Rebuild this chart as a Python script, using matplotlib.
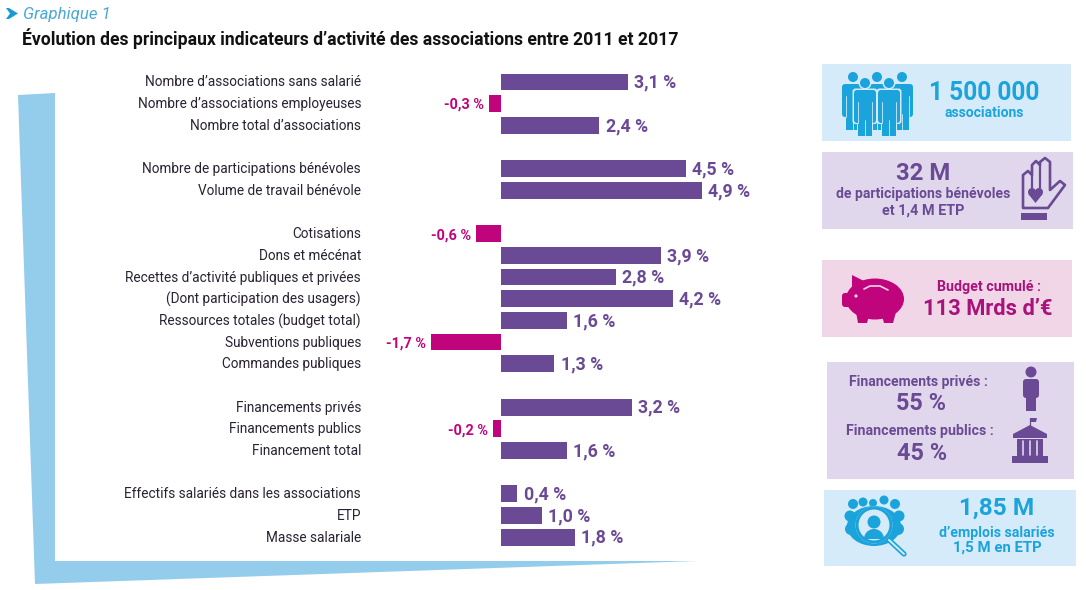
import matplotlib
matplotlib.use("Agg")
import matplotlib.pyplot as plt
from matplotlib.patches import Polygon, Rectangle, Circle, Ellipse, FancyBboxPatch, Wedge
from matplotlib.lines import Line2D
from matplotlib.transforms import ScaledTranslation

plt.rcParams['font.family'] = ['Roboto', 'Liberation Sans', 'DejaVu Sans']

# ---------- data ----------
labels = ["Nombre d’associations sans salarié", "Nombre d’associations employeuses", "Nombre total d’associations",
          "Nombre de participations bénévoles", "Volume de travail bénévole",
          "Cotisations", "Dons et mécénat", "Recettes d’activité publiques et privées",
          "(Dont participation des usagers)", "Ressources totales (budget total)",
          "Subventions publiques", "Commandes publiques",
          "Financements privés", "Financements publics", "Financement total",
          "Effectifs salariés dans les associations", "ETP", "Masse salariale"]
values = [3.1, -0.3, 2.4, 4.5, 4.9, -0.6, 3.9, 2.8, 4.2, 1.6, -1.7, 1.3, 3.2, -0.2, 1.6, 0.4, 1.0, 1.8]
rows = [0, 1, 2, 4, 5, 7, 8, 9, 10, 11, 12, 13, 15, 16, 17, 19, 20, 21]

PURPLE = "#6a4a94"
MAGENTA = "#c0047c"
BLUE = "#1ba3dc"
WEDGE = "#94cdec"
P_BLUE = "#d5ebf9"
P_LILAC = "#e0d7ec"
P_PINK = "#f1d6e8"
W, H = 1086, 590

fig = plt.figure(figsize=(W / 100, H / 100), dpi=100, facecolor="white")
rend = fig.canvas.get_renderer()

# ---------- pixel canvas for decoration ----------
bg = fig.add_axes([0, 0, 1, 1])
bg.set_xlim(0, W)
bg.set_ylim(H, 0)
bg.axis("off")

def poly(pts, c, z=2):
    bg.add_patch(Polygon(pts, closed=True, fc=c, ec="none", zorder=z))

def rect(x0, y0, x1, y1, c, z=3):
    bg.add_patch(Rectangle((x0, y0), x1 - x0, y1 - y0, fc=c, ec="none", zorder=z))

def circ(x, y, r, c, z=3):
    bg.add_patch(Circle((x, y), r, fc=c, ec="none", zorder=z))

def rrect(x0, y0, x1, y1, r, c, z=3):
    bg.add_patch(FancyBboxPatch((x0 + r, y0 + r), x1 - x0 - 2 * r, y1 - y0 - 2 * r,
                                boxstyle=f"round,pad={r},rounding_size={r}", fc=c, ec="none", zorder=z))

def line(xs, ys, c, lw, z=3):
    bg.add_line(Line2D(xs, ys, color=c, lw=lw, solid_capstyle="round", solid_joinstyle="round", zorder=z))

def txt(x, y, s, c, width, bold=True, ha="center", style="normal"):
    t = bg.text(x, y, s, color=c, fontsize=12, ha=ha, va="center",
                fontweight="bold" if bold else "normal", fontstyle=style, zorder=8)
    t.set_fontsize(12 * width / t.get_window_extent(rend).width)
    return t

def fitted_size(s, width, **kw):
    t = fig.text(0, 0, s, fontsize=12, **kw)
    size = 12 * width / t.get_window_extent(rend).width
    t.remove()
    return size

# corner wedge
poly([(18, 95), (55, 93), (55, 561), (697, 561), (35, 584)], WEDGE, 1)

# header
poly([(6, 8), (9, 8), (18, 13.5), (9, 19), (6, 19), (10, 13.5)], "#1b9ad2")
txt(23, 14, "Graphique 1", "#4aa8d8", 87, bold=False, ha="left", style="italic")
txt(22, 39, "Évolution des principaux indicateurs d’activité des associations entre 2011 et 2017",
    "#111111", 656.5, ha="left")

# panels
rect(822, 64, 1071, 141, P_BLUE, 1)
rect(822, 152, 1073, 229, P_LILAC, 1)
rect(822, 260, 1072, 337, P_PINK, 1)
rect(827, 362, 1074, 479, P_LILAC, 1)
rect(824, 490, 1076, 566, P_BLUE, 1)

# panel texts
txt(984, 93, "1 500 000", BLUE, 110)
txt(984, 113, "associations", BLUE, 79)
txt(923, 174, "32 M", PURPLE, 54)
txt(923.5, 194, "de participations bénévoles", PURPLE, 173)
txt(923, 211, "et 1,4 M ETP", PURPLE, 82)
txt(989, 287, "Budget cumulé :", "#a8127a", 103)
txt(988, 309, "113 Mrds d’€", "#a8127a", 128)
txt(918, 382, "Financements privés :", PURPLE, 138)
txt(921, 403, "55 %", PURPLE, 50)
txt(920, 431, "Financements publics :", PURPLE, 146)
txt(922, 453, "45 %", PURPLE, 50)
txt(997, 508, "1,85 M", BLUE, 75)
txt(997, 533, "d’emplois salariés", BLUE, 115)
txt(997, 548, "1,5 M en ETP", BLUE, 88)

# people icon
def person(cx, top, c, z, outline=None):
    if outline:
        circ(cx, top + 5, 6.5, outline, z)
        rrect(cx - 12.5, top + 10.5, cx + 12.5, top + 46, 3, outline, z)
        rect(cx - 8, top + 40, cx + 8, top + 60, outline, z)
    circ(cx, top + 5, 5, c, z + 1)
    rrect(cx - 11, top + 12, cx + 11, top + 45, 3, c, z + 1)
    rect(cx - 7, top + 40, cx + 7, top + 58, c, z + 1)
    line([cx, cx], [top + 42, top + 58], P_BLUE, 0.6, z + 2)
    for d in (-7, 7):
        line([cx + d, cx + d], [top + 24, top + 45], P_BLUE, 0.6, z + 2)

for cx in (853, 877, 902):
    person(cx, 72, BLUE, 2)
for cx in (865, 889):
    person(cx, 78, BLUE, 5, P_BLUE)

# hand icon
line([1023, 1023, 1028, 1032, 1032, 1036, 1040, 1040, 1045, 1050, 1050, 1060, 1065, 1048, 1023],
     [207, 175, 171, 175, 165, 161, 165, 162, 158, 162, 190, 181, 185, 208, 208], PURPLE, 1.9)
line([1032, 1032], [175, 188], PURPLE, 1.6)
line([1040, 1040], [165, 188], PURPLE, 1.6)
rect(1021, 213, 1047, 220, PURPLE)
circ(1032, 192, 4, PURPLE)
circ(1039, 192, 4, PURPLE)
poly([(1028.3, 194), (1042.7, 194), (1035.5, 203)], PURPLE, 3)

# piggy bank icon
bg.add_patch(Ellipse((875, 299), 58, 41, fc=MAGENTA, ec="none", zorder=3))
poly([(852, 275), (868, 283), (852, 295)], MAGENTA, 3)
poly([(856, 312), (870, 312), (867, 323), (858, 323)], MAGENTA, 3)
poly([(881, 312), (896, 312), (893, 323), (884, 323)], MAGENTA, 3)
rrect(842, 293, 853, 307, 3, MAGENTA)
circ(856, 296, 1.6, P_PINK, 5)
line([864, 870, 880, 888], [289, 286, 286, 290], P_PINK, 1.2, 5)

# single person icon
circ(1031, 372, 5.5, PURPLE)
rrect(1023, 379, 1039, 398, 3, PURPLE)
rect(1026, 394, 1036, 411, PURPLE)

# building icon
poly([(1013, 434), (1030, 425), (1047, 434), (1047, 438), (1013, 438)], PURPLE, 3)
line([1030, 1030], [418, 426], PURPLE, 0.9)
poly([(1030, 418), (1037, 418), (1036, 422), (1030, 422)], PURPLE, 3)
rect(1017, 439, 1043, 457, PURPLE)
for x in (1023, 1030, 1037):
    line([x, x], [441, 455], P_LILAC, 1.2, 4)
rect(1012, 456, 1048, 463, PURPLE)

# magnifier with crowd icon
for x, y, r in ((853, 504, 5), (863, 502, 4.5), (873, 503, 4), (884, 500, 4.5), (895, 504, 5),
                (850, 516, 5.5), (899, 516, 5.5), (851, 529, 6), (898, 529, 6)):
    circ(x, y, r, BLUE)
bg.add_patch(Ellipse((874, 526), 54, 40, fc=BLUE, ec="none", zorder=3))
circ(874, 525, 18.5, P_BLUE, 4)
bg.add_patch(Circle((874, 525), 17, fc="none", ec=BLUE, lw=2.2, zorder=5))
circ(874, 522, 6.5, BLUE, 6)
bg.add_patch(Wedge((874, 539), 10, 180, 360, fc=BLUE, ec="none", zorder=6))
line([889, 904], [540, 554], BLUE, 3.8, 5)
line([889, 904], [540, 554], P_BLUE, 1.4, 6)

# ---------- bar chart ----------
PX = 41.0          # pixels per percentage point
ZERO = 501.0
TOP, STEP = 82.0, 21.67
L, R, T, B = 361, 800, 60, 560
ax = fig.add_axes([L / W, 1 - B / H, (R - L) / W, (B - T) / H])
ax.patch.set_alpha(0)
ax.set_xlim((L - ZERO) / PX, (R - ZERO) / PX)
ax.set_ylim((B - TOP) / STEP, (T - TOP) / STEP)
ax.barh(rows, values, height=0.78, color=[PURPLE if v >= 0 else MAGENTA for v in values])
ax.set_yticks(rows, labels)
ax.set_xticks([])
ax.tick_params(axis="y", length=0, pad=0, labelcolor="#2a2233",
               labelsize=fitted_size(labels[0], 215))
for lab in ax.get_yticklabels():
    lab.set_transform(lab.get_transform() + ScaledTranslation(0, 1 / 100, fig.dpi_scale_trans))
for s in ax.spines.values():
    s.set_visible(False)
pos_size = fitted_size("3,1 %", 42, fontweight="bold")
neg_size = fitted_size("-0,3 %", 40, fontweight="bold")
for r, v in zip(rows, values):
    s = f"{v:.1f} %".replace(".", ",")
    if v >= 0:
        ax.annotate(s, (v, r), xytext=(4.5, -0.5), textcoords="offset points", ha="left", va="center",
                    color=PURPLE, fontsize=pos_size, fontweight="bold")
    else:
        ax.annotate(s, (v, r), xytext=(-3.5, -1), textcoords="offset points", ha="right", va="center",
                    color=MAGENTA, fontsize=neg_size, fontweight="bold")

fig.savefig("out.png", dpi=100)
